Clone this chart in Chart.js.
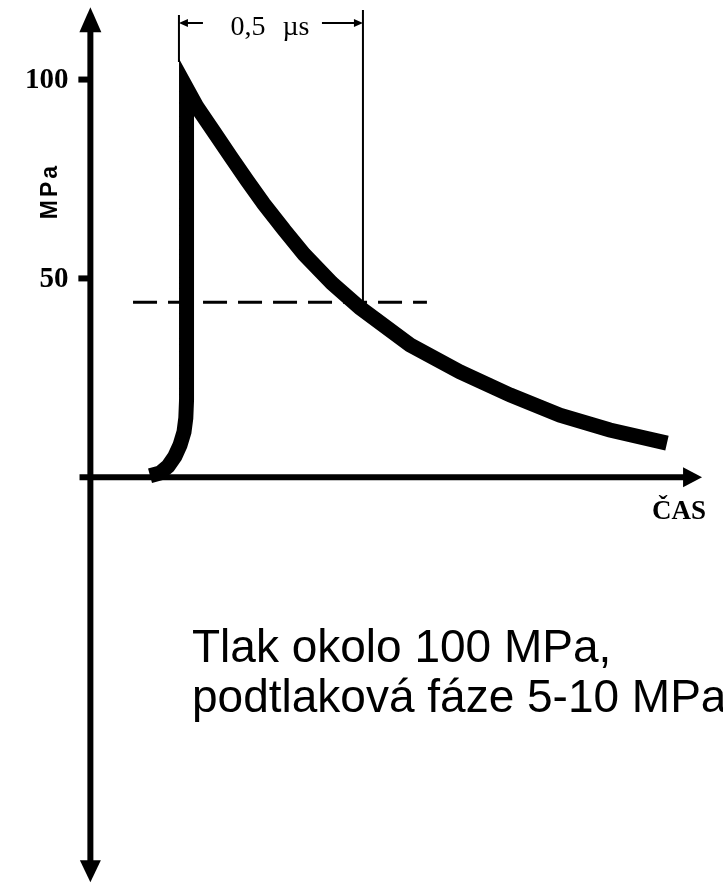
<!DOCTYPE html>
<html lang="cs">
<head>
<meta charset="utf-8">
<title>Tlak rázové vlny</title>
<script src="https://cdn.jsdelivr.net/npm/chart.js@4.4.1/dist/chart.umd.min.js"></script>
<style>
    html, body { margin: 0; padding: 0; background: #fff; }
    #chart { display: block; }
</style>
</head>
<body>
<canvas id="chart" width="723" height="883"></canvas>
<script>
// curve centre line: time (µs) and pressure (MPa)
const timeUs = [0.165, 0.193, 0.215, 0.234, 0.248, 0.259, 0.264, 0.266, 0.266, 0.295, 0.342, 0.389, 0.433, 0.480, 0.536, 0.591, 0.668, 0.746, 0.884, 1.022, 1.161, 1.299, 1.437, 1.595];
const pressure = [0.4, 1.1, 2.8, 5.3, 8.1, 11.4, 14.9, 19.4, 97.9, 93.1, 86.8, 80.5, 74.7, 68.7, 62.2, 56.1, 48.8, 42.6, 33.3, 26.5, 20.7, 15.6, 11.9, 8.6];

// y axis ticks
const yTicks = [100, 50];

// dashed level and its extent
const dashLevel = 44;
const dashFrom = 0.118;
const dashTo = 0.931;

// the 0,5 µs span: marker times, top and bottom of each marker
const spanTimes = [0.245, 0.754];
const spanTops = [116.2, 117.5];
const spanBottoms = [104.4, 44];

// texts
const spanLabel = '0,5 µs';
const yTitle = 'MPa';
const xTitle = 'ČAS';
const noteLines = ['Tlak okolo 100 MPa,', 'podtlaková fáze 5-10 MPa'];

// scale ranges and axis extents
const X_MIN = -0.25, X_MAX = 1.75;
const Y_MIN = -102, Y_MAX = 120;
const AXIS = { xFrom: -0.03, xTo: 1.692, yFrom: -101.8, yTo: 118.2 };

// filled arrow head, tip at (tx, ty), pointing along (dx, dy)
function arrowHead(ctx, tx, ty, dx, dy, len, half) {
    const bx = tx - dx * len, by = ty - dy * len;
    ctx.beginPath();
    ctx.moveTo(tx, ty);
    ctx.lineTo(bx - dy * half, by + dx * half);
    ctx.lineTo(bx + dy * half, by - dx * half);
    ctx.closePath();
    ctx.fill();
}

// axes, ticks and titles
const axesPlugin = {
    id: 'axes',
    beforeDatasetsDraw(chart) {
        const { ctx, scales: { x, y } } = chart;
        const x0 = x.getPixelForValue(0);
        const y0 = y.getPixelForValue(0);
        ctx.save();
        ctx.fillStyle = '#000';
        ctx.strokeStyle = '#000';
        ctx.lineWidth = 6;

        // vertical axis with arrows at both ends
        const top = y.getPixelForValue(AXIS.yTo);
        const bottom = y.getPixelForValue(AXIS.yFrom);
        ctx.beginPath();
        ctx.moveTo(x0, top + 20);
        ctx.lineTo(x0, bottom - 18);
        ctx.stroke();
        arrowHead(ctx, x0, top, 0, -1, 25, 11);
        arrowHead(ctx, x0, bottom, 0, 1, 22, 10.5);

        // horizontal axis
        const left = x.getPixelForValue(AXIS.xFrom);
        const right = x.getPixelForValue(AXIS.xTo);
        ctx.beginPath();
        ctx.moveTo(left, y0);
        ctx.lineTo(right - 15, y0);
        ctx.stroke();
        arrowHead(ctx, right, y0, 1, 0, 19, 10);

        // ticks
        ctx.font = 'bold 29px "Liberation Serif", serif';
        ctx.textAlign = 'right';
        ctx.textBaseline = 'middle';
        yTicks.forEach(v => {
            const py = y.getPixelForValue(v);
            ctx.fillRect(x0 - 12, py - 3, 12, 6);
            ctx.fillText(String(v), x0 - 22, py + 1);
        });

        // y title, rotated
        ctx.save();
        ctx.translate(x0 - 33, 191);
        ctx.rotate(-Math.PI / 2);
        ctx.font = 'bold 23px "Liberation Sans", sans-serif';
        ctx.letterSpacing = '3px';
        ctx.textAlign = 'center';
        ctx.textBaseline = 'alphabetic';
        ctx.fillText(yTitle, 0, 0);
        ctx.restore();

        // x title
        ctx.font = 'bold 27px "Liberation Serif", serif';
        ctx.textAlign = 'right';
        ctx.textBaseline = 'alphabetic';
        ctx.fillText(xTitle, right + 4, y0 + 42);
        ctx.restore();
    },
    afterDatasetsDraw(chart) {
        const { ctx, scales: { x } } = chart;
        const xl = x.getPixelForValue(spanTimes[0]);
        const xr = x.getPixelForValue(spanTimes[1]);
        const ay = 23;
        ctx.save();
        ctx.fillStyle = '#000';
        ctx.strokeStyle = '#000';
        ctx.lineWidth = 2;

        // span arrows
        ctx.beginPath();
        ctx.moveTo(xl + 6, ay);
        ctx.lineTo(xl + 24, ay);
        ctx.moveTo(xr - 41, ay);
        ctx.lineTo(xr - 6, ay);
        ctx.stroke();
        arrowHead(ctx, xl, ay, -1, 0, 9, 4);
        arrowHead(ctx, xr, ay, 1, 0, 9, 4);

        // span label
        ctx.font = '28px "Liberation Serif", serif';
        ctx.wordSpacing = '10px';
        ctx.textAlign = 'center';
        ctx.textBaseline = 'alphabetic';
        ctx.fillText(spanLabel, (xl + xr) / 2 - 1, 35);

        // note under the chart
        ctx.wordSpacing = '0px';
        ctx.font = '46px "Liberation Sans", Arial, sans-serif';
        ctx.textAlign = 'left';
        noteLines.forEach((line, i) => {
            ctx.fillText(line, 192, 662 + i * 50);
        });
        ctx.restore();
    }
};

// chart setup
const ctx = document.getElementById('chart').getContext('2d');

const curveData = timeUs.map((t, i) => ({ x: t, y: pressure[i] }));

const spanDatasets = spanTimes.map((t, i) => ({
    data: [{ x: t, y: spanTops[i] }, { x: t, y: spanBottoms[i] }],
    borderColor: '#000',
    borderWidth: 2,
    pointRadius: 0
}));

new Chart(ctx, {
    type: 'line',
    data: {
        datasets: [{
            label: 'Tlak',
            data: curveData,
            borderColor: '#000',
            borderWidth: 15,
            borderJoinStyle: 'miter',
            borderCapStyle: 'butt',
            tension: 0,
            pointRadius: 0
        }, {
            label: 'Hladina',
            data: [{ x: dashFrom, y: dashLevel }, { x: dashTo, y: dashLevel }],
            borderColor: '#000',
            borderWidth: 3,
            borderDash: [24, 11],
            pointRadius: 0
        }, ...spanDatasets]
    },
    options: {
        responsive: false,
        animation: false,
        layout: { padding: 0 },
        plugins: {
            legend: { display: false },
            tooltip: { enabled: false }
        },
        scales: {
            x: { type: 'linear', min: X_MIN, max: X_MAX, display: false },
            y: { type: 'linear', min: Y_MIN, max: Y_MAX, display: false }
        }
    },
    plugins: [axesPlugin]
});
</script>
</body>
</html>
